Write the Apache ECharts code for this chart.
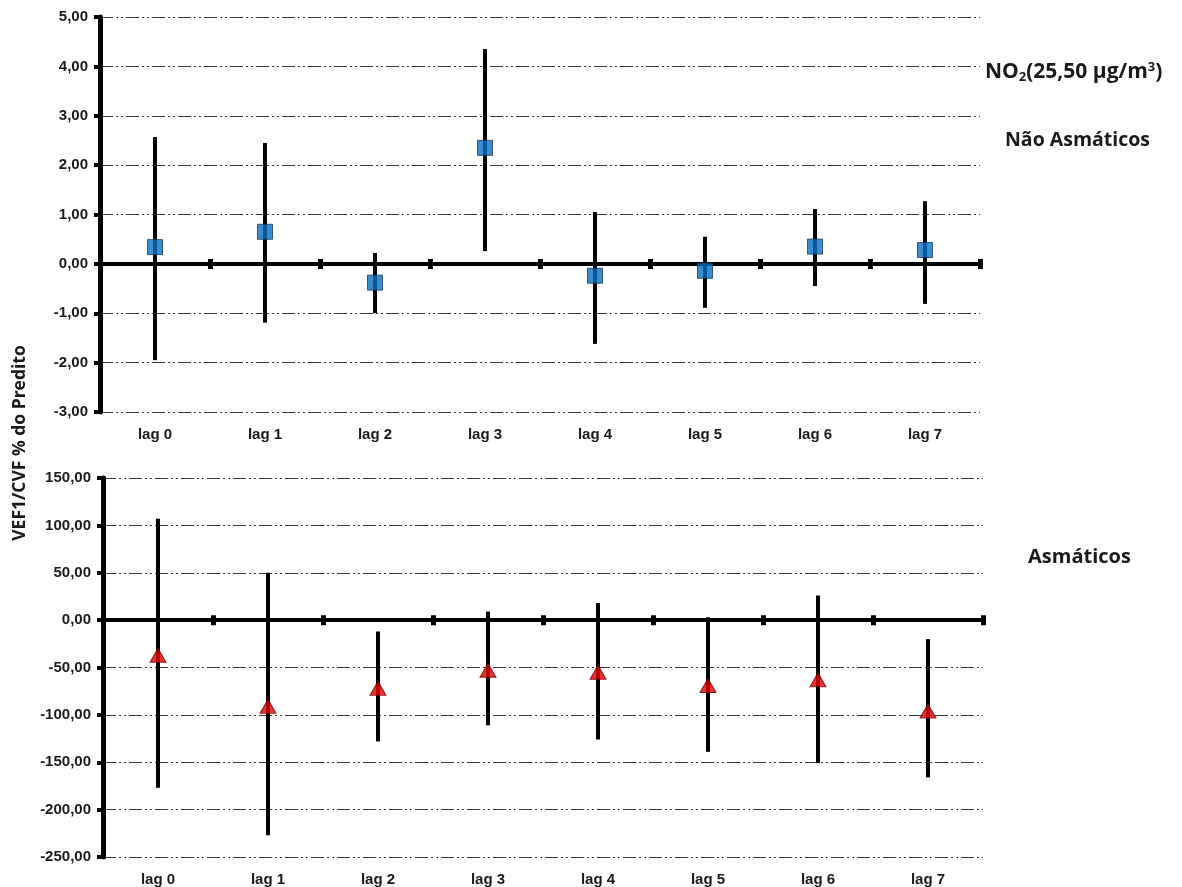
<!DOCTYPE html>
<html>
<head>
<meta charset="utf-8">
<script src="https://cdn.jsdelivr.net/npm/echarts@6/dist/echarts.min.js"></script>
<style>
  html, body { margin: 0; padding: 0; background: #ffffff; }
  #chart { width: 1182px; height: 887px; }
</style>
</head>
<body>
<div id="chart"></div>
<script>
// Lag categories shared by both panels
const lags = ['lag 0', 'lag 1', 'lag 2', 'lag 3', 'lag 4', 'lag 5', 'lag 6', 'lag 7'];

// Não asmáticos: estimate and 95% interval (VEF1/CVF % do predito)
const naoAsmEst  = [0.34, 0.65, -0.38, 2.35, -0.24, -0.14, 0.35, 0.28];
const naoAsmLow  = [-1.95, -1.19, -1.00, 0.26, -1.62, -0.89, -0.45, -0.81];
const naoAsmHigh = [2.57, 2.45, 0.22, 4.35, 1.05, 0.55, 1.11, 1.27];

// Asmáticos: estimate and 95% interval
const asmEst  = [-37, -91, -72, -53, -55, -69, -63, -96];
const asmLow  = [-177, -227, -128, -111, -126, -139, -151, -166];
const asmHigh = [107, 50, -12, 9, 18, 3, 26, -20];

// Y-axis scales
const topTicks = { min: -3, max: 5, interval: 1 };
const botTicks = { min: -250, max: 150, interval: 50 };

const fmt = v => v.toFixed(2).replace('.', ',');
const labelFont = { fontFamily: 'Liberation Sans', fontWeight: 'bold', fontSize: 15, color: '#1a1a1a' };
const gridLine = { show: true, lineStyle: { color: '#3a3a3a', width: 1, type: [13, 3, 2, 3, 2, 3] } };

// Three x axes per panel: labels at the bottom, and the zero line whose
// boundary ticks cross it (one axis ticks downward, the other upward).
function xAxes(gridIndex, helperY) {
  return [
    {
      type: 'category', data: lags, gridIndex: gridIndex, boundaryGap: true, position: 'bottom',
      axisLine: { show: false, onZero: false }, axisTick: { show: false },
      axisLabel: Object.assign({ margin: 15 }, labelFont)
    },
    {
      type: 'category', data: lags, gridIndex: gridIndex, boundaryGap: true, position: 'bottom',
      axisLine: { show: true, onZero: true, lineStyle: { color: '#000', width: 4 } },
      axisTick: { show: true, inside: false, length: 5, lineStyle: { color: '#000', width: 5 } },
      axisLabel: { show: false }
    },
    {
      type: 'category', data: lags, gridIndex: gridIndex, boundaryGap: true, position: 'bottom',
      axisLine: { show: true, onZero: true, onZeroAxisIndex: helperY, lineStyle: { color: '#000', width: 4 } },
      axisTick: { show: true, inside: true, length: 5, lineStyle: { color: '#000', width: 5 } },
      axisLabel: { show: false }
    }
  ];
}

function yAxis(gridIndex, s) {
  return {
    type: 'value', gridIndex: gridIndex, min: s.min, max: s.max, interval: s.interval, position: 'left',
    axisLine: { show: true, lineStyle: { color: '#000', width: 5 } },
    axisTick: { show: true, inside: false, length: 6, lineStyle: { color: '#000', width: 4 } },
    axisLabel: Object.assign({ margin: 12, formatter: fmt }, labelFont),
    splitLine: gridLine
  };
}

// Hidden twin of a panel's y scale, used only to anchor the upward tick axis at zero
function helperYAxis(gridIndex, s) {
  return {
    type: 'value', gridIndex: gridIndex, min: s.min, max: s.max, interval: s.interval, position: 'right',
    axisLine: { show: false }, axisTick: { show: false }, axisLabel: { show: false }, splitLine: { show: false }
  };
}

function errorBars(xIdx, yIdx, low, high) {
  return {
    type: 'custom', xAxisIndex: xIdx, yAxisIndex: yIdx, z: 3,
    data: low.map((l, i) => [i, l, high[i]]),
    renderItem: function (params, api) {
      const a = api.coord([api.value(0), api.value(1)]);
      const b = api.coord([api.value(0), api.value(2)]);
      return {
        type: 'line',
        shape: { x1: a[0], y1: a[1], x2: b[0], y2: b[1] },
        style: { stroke: '#000', lineWidth: 4 }
      };
    }
  };
}

const titleFont = { fontFamily: 'Open Sans', fontWeight: 'bold', fill: '#1a1a1a' };

const chart = echarts.init(document.getElementById('chart'), null, { renderer: 'canvas' });

chart.setOption({
  animation: false,
  backgroundColor: '#ffffff',
  grid: [
    { left: 100, right: 202, top: 17, height: 395 },
    { left: 103, right: 199, top: 478, height: 379 }
  ],
  xAxis: xAxes(0, 2).concat(xAxes(1, 3)),
  yAxis: [yAxis(0, topTicks), yAxis(1, botTicks), helperYAxis(0, topTicks), helperYAxis(1, botTicks)],
  series: [
    errorBars(0, 0, naoAsmLow, naoAsmHigh),
    {
      type: 'scatter', xAxisIndex: 0, yAxisIndex: 0, z: 4,
      symbol: 'rect', symbolSize: 15,
      itemStyle: { color: '#0a6fc2', borderColor: '#1c3a5e', borderWidth: 1 },
      data: naoAsmEst
    },
    errorBars(3, 1, asmLow, asmHigh),
    {
      type: 'scatter', xAxisIndex: 3, yAxisIndex: 1, z: 4,
      symbol: 'triangle', symbolSize: [16, 14],
      itemStyle: { color: '#e00000', borderColor: '#7a0000', borderWidth: 1 },
      data: asmEst
    }
  ],
  graphic: [
    {
      type: 'text', x: 985, y: 72,
      style: {
        text: '{a|NO}{sub|2}{a|(25,50 µg/m}{sup|3}{a|)}',
        verticalAlign: 'middle',
        rich: {
          a: Object.assign({ fontSize: 21, lineHeight: 30 }, titleFont),
          sub: Object.assign({ fontSize: 13, lineHeight: 30, padding: [11, 0, 0, 0] }, titleFont),
          sup: Object.assign({ fontSize: 13, lineHeight: 30, padding: [0, 0, 9, 0] }, titleFont)
        }
      }
    },
    {
      type: 'text', x: 1005, y: 140,
      style: Object.assign({ text: 'Não Asmáticos', fontSize: 19.5, verticalAlign: 'middle' }, titleFont)
    },
    {
      type: 'text', x: 1028, y: 557,
      style: Object.assign({ text: 'Asmáticos', fontSize: 20, verticalAlign: 'middle' }, titleFont)
    },
    {
      type: 'text', x: 20, y: 443, rotation: Math.PI / 2,
      style: Object.assign({ text: 'VEF1/CVF % do Predito', fontSize: 17.5, align: 'center', verticalAlign: 'middle' }, titleFont)
    }
  ]
});
</script>
</body>
</html>
